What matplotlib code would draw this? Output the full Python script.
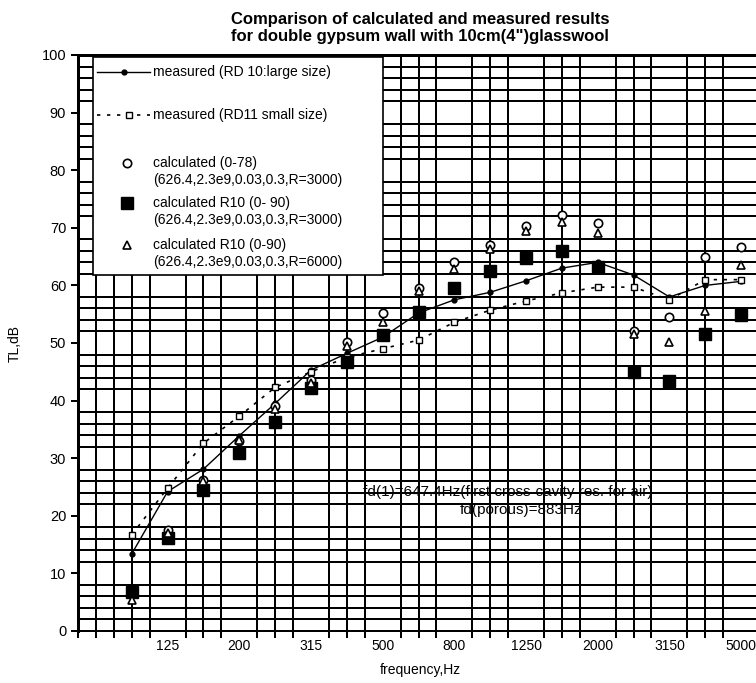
import numpy as np
import matplotlib
matplotlib.use("Agg")
import matplotlib.pyplot as plt
from matplotlib.patches import Rectangle

plt.rcParams['font.family'] = ['Liberation Sans', 'DejaVu Sans']

# 1/3 octave bands
freqs = ['100', '125', '160', '200', '250', '315', '400', '500', '630', '800',
         '1000', '1250', '1600', '2000', '2500', '3150', '4000', '5000']
tick_labels = ['125', '200', '315', '500', '800', '1250', '2000', '3150', '5000']

meas_rd10 = [13.4, 24.2, 28.1, 33.9, 39.5, 45.3, 48.2, 51.0, 55.2, 57.5,
             58.8, 60.8, 63.0, 64.0, 61.8, 58.0, 60.0, 60.7]
meas_rd11 = [16.7, 24.8, 32.6, 37.3, 42.3, 45.0, 47.5, 49.0, 50.5, 53.6,
             55.7, 57.3, 58.7, 59.7, 59.7, 57.5, 61.0, 61.0]
calc_078 = [7.0, 17.5, 26.2, 33.0, 39.0, 43.5, 50.2, 55.2, 59.5, 64.0,
            67.0, 70.3, 72.2, 70.8, 52.0, 54.5, 65.0, 66.6]
calc_r10_3000 = [6.8, 16.2, 24.5, 30.9, 36.3, 42.2, 46.7, 51.4, 55.4, 59.5,
                 62.5, 64.8, 66.0, 63.2, 45.0, 43.4, 51.5, 54.9]
calc_r10_6000 = [5.4, 17.0, 26.0, 33.2, 38.5, 43.0, 49.5, 53.7, 59.0, 62.8,
                 66.3, 69.4, 71.0, 69.1, 51.6, 50.2, 55.5, 63.5]

W, H = 756, 683
fig = plt.figure(figsize=(W / 100, H / 100), dpi=100)
# axes from x=78 px to beyond the right border, y from 55 to 631 px
ax = fig.add_axes([78 / W, (H - 631) / H, (759 - 78) / W, 576 / H])

x = np.arange(len(freqs))
ax.set_xlim(-1.5, 17.5)
ax.set_ylim(0, 100)

# heavy grid
ax.set_xticks(np.arange(-1.5, 17.6, 0.5), minor=True)
ax.set_xticks(x[1::2])
ax.set_xticklabels(tick_labels, fontsize=10)
ax.set_yticks(np.arange(0, 101, 10))
ax.set_yticks(np.arange(0, 101, 2), minor=True)
ax.tick_params(axis='y', labelsize=10.5, length=5, width=1.44, direction='out')
ax.tick_params(axis='y', which='minor', length=0)
ax.tick_params(axis='x', which='both', length=5, width=1.44, direction='out', pad=6)
ax.tick_params(axis='x', which='major', length=0)
ax.grid(True, which='minor', color='black', lw=1.44)
ax.set_axisbelow(True)
for s in ['top', 'left']:
    ax.spines[s].set_linewidth(2.16)
ax.spines['bottom'].set_linewidth(1.44)
ax.spines['right'].set_visible(False)

ax.plot(x, meas_rd10, color='black', lw=1, marker='o', ms=3.5, zorder=4)
ax.plot(x, meas_rd11, color='black', lw=1.2, ls=(0, (2, 4)), marker='s',
        ms=4, mfc='white', mew=1, zorder=4)
ax.plot(x, calc_078, ls='none', marker='o', ms=6, mfc='white', mec='black',
        mew=1.2, zorder=5)
ax.plot(x, calc_r10_3000, ls='none', marker='s', ms=8, color='black', zorder=5)
ax.plot(x, calc_r10_6000, ls='none', marker='^', ms=6, mfc='white', mec='black',
        mew=1.2, zorder=5)

ax.text(10.5, 24.1, 'fd(1)=647.4Hz(first cross-cavity res. for air)',
        ha='center', va='center', fontsize=11, zorder=6)
ax.text(10.85, 21.0, 'fd(porous)=883Hz', ha='center', va='center',
        fontsize=11, zorder=6)

ax.set_ylabel('TL,dB', fontsize=10, labelpad=14)
ax.set_xlabel('frequency,Hz', fontsize=10, labelpad=8)
ax.xaxis.set_label_coords((420 - 78) / (759 - 78), -0.055)
ax.set_title('Comparison of calculated and measured results\n'
             'for double gypsum wall with 10cm(4")glasswool',
             fontsize=12, fontweight='bold', pad=10,
             x=(420 - 78) / (759 - 78))


# legend drawn by hand (pixel positions -> data coords)
def px(u, v):
    return -1.5 + (u - 78) / 35.84, (631 - v) / 5.76


x0, y0 = px(93, 275)
x1, y1 = px(383, 57)
ax.add_patch(Rectangle((x0, y0), x1 - x0, y1 - y0, facecolor='white',
                       edgecolor='black', lw=1.2, zorder=7, clip_on=False))
fs = 10
a, b = px(97, 72)
c, _ = px(150, 72)
m, _ = px(124, 72)
ax.plot([a, c], [b, b], color='black', lw=1, zorder=8)
ax.plot([m], [b], 'o', color='black', ms=3.5, zorder=8)
tx, _ = px(153, 72)
ax.text(tx, b, 'measured (RD 10:large size)', fontsize=fs, va='center', zorder=8)
a, b = px(97, 115)
m, _ = px(129, 115)
ax.plot([a, c], [b, b], color='black', lw=1.2, ls=(0, (2, 4)), zorder=8)
ax.plot([m], [b], 's', ms=4, mfc='white', mec='black', zorder=8)
ax.text(tx, b, 'measured (RD11 small size)', fontsize=fs, va='center', zorder=8)

entries = [
    (163, dict(marker='o', ms=6, mfc='white', mec='black', mew=1.2),
     'calculated (0-78)\n(626.4,2.3e9,0.03,0.3,R=3000)'),
    (203, dict(marker='s', ms=8, color='black'),
     'calculated R10 (0- 90)\n(626.4,2.3e9,0.03,0.3,R=3000)'),
    (245, dict(marker='^', ms=6, mfc='white', mec='black', mew=1.2),
     'calculated R10 (0-90)\n(626.4,2.3e9,0.03,0.3,R=6000)'),
]
for v, style, label in entries:
    m, b = px(127, v)
    ax.plot([m], [b], ls='none', zorder=8, **style)
    ax.text(tx, b + 7 / 5.76, label, fontsize=fs, va='top', zorder=8,
            linespacing=1.25)

fig.savefig('out.png', dpi=100)
